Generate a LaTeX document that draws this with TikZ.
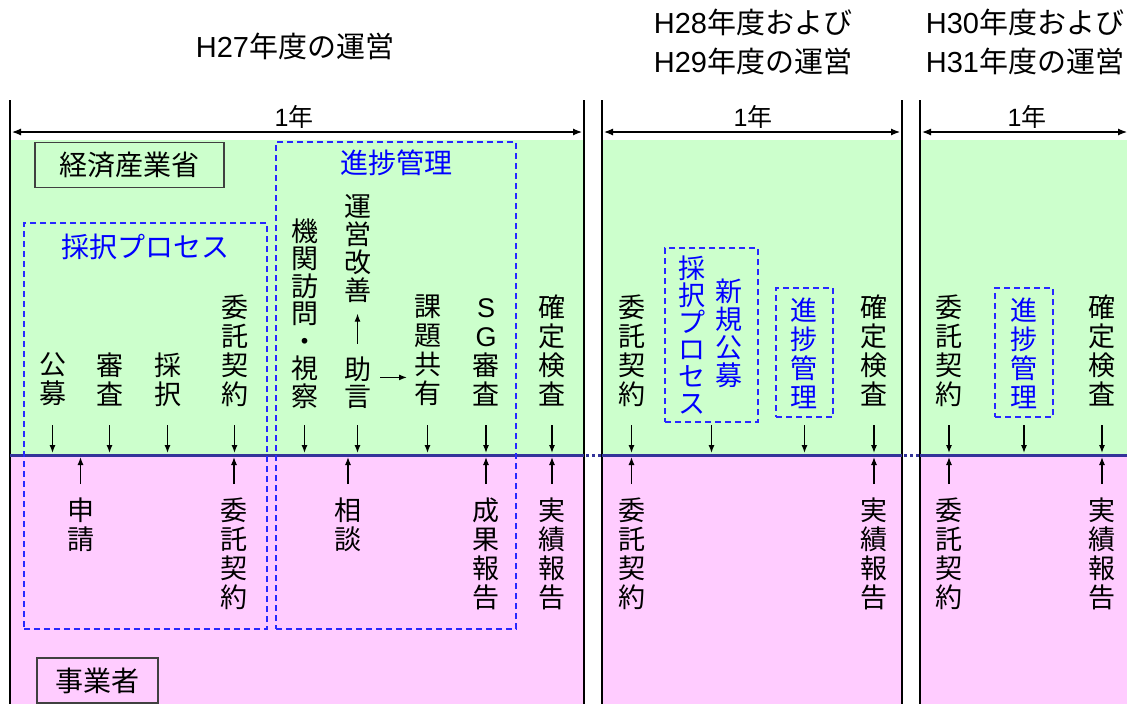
\documentclass[tikz,border=0pt]{standalone}
\usepackage{fontspec}
\setmainfont{Noto Sans CJK JP}
\newfontfamily\lat{Liberation Sans}
\usetikzlibrary{arrows.meta}
\definecolor{pgreen}{HTML}{CCFFCC}
\definecolor{ppink}{HTML}{FFCCFF}
\definecolor{navyline}{RGB}{51,51,153}
\definecolor{grpblue}{RGB}{40,40,255}
\definecolor{txtblue}{RGB}{0,0,255}
\begin{document}
\begin{tikzpicture}[x=1pt,y=-1pt,
  vt/.style={align=center, inner sep=0pt, outer sep=0pt, anchor=north, font=\fontsize{27}{29}\selectfont},
  bvt/.style={vt, text=txtblue},
  grp/.style={draw=grpblue, line width=1.5pt, dash pattern=on 6pt off 4pt, inner sep=0pt, outer sep=0pt},
  arr/.style={-{Latex[length=8pt,width=6pt]}, line width=1.2pt},
  dim/.style={{Latex[length=9pt,width=7pt]}-{Latex[length=9pt,width=7pt]}, line width=1.2pt},
  sepl/.style={line width=2pt},
  hdr/.style={font=\fontsize{29}{39}\selectfont, align=center, inner sep=0pt},
  yr/.style={font=\fontsize{25}{28}\selectfont, inner sep=0pt},
  actor/.style={draw=black!75, line width=1.2pt, minimum height=45pt, inner sep=0pt, font=\fontsize{28}{30}\selectfont},
  grpt/.style={text=txtblue, inner sep=0pt, font=\fontsize{28}{30}\selectfont},
]
\useasboundingbox (0,0) rectangle (1127,704);
% backgrounds
\fill[pgreen] (11,140) rectangle (584,455);
\fill[ppink] (11,455) rectangle (584,704);
\fill[pgreen] (603,140) rectangle (902,455);
\fill[ppink] (603,455) rectangle (902,704);
\fill[pgreen] (921,140) rectangle (1127,455);
\fill[ppink] (921,455) rectangle (1127,704);
% separators
\draw[sepl] (10,100) -- (10,704);
\draw[sepl] (584,100) -- (584,704);
\draw[sepl] (602,100) -- (602,704);
\draw[sepl] (902,100) -- (902,704);
\draw[sepl] (920,100) -- (920,704);
% boundary line
\draw[navyline, line width=3pt] (10,455) -- (584,455) (602,455) -- (902,455) (920,455) -- (1127,455);
\draw[navyline, line width=3pt, dash pattern=on 3pt off 3pt] (586,455) -- (602,455) (904,455) -- (920,455);
% arrow levels
\coordinate (dt) at (0,425);
\coordinate (db) at (0,453);
\coordinate (ut) at (0,484);
\coordinate (ub) at (0,457);
% headers
\node[hdr] (h1) at (295,46) {{\lat H27}年度の運営};
\node[hdr] (h2) at (753,41.5) {{\lat H28}年度および\\{\lat H29}年度の運営};
\node[hdr] (h3) at (1025,41.5) {{\lat H30}年度および\\{\lat H31}年度の運営};
% one-year spans
\node[yr] (y1) at (294,117) {{\lat 1}年};
\node[yr] (y2) at (753,117) {{\lat 1}年};
\node[yr] (y3) at (1027,117) {{\lat 1}年};
\coordinate (d1a) at (12,132); \coordinate (d1b) at (582,132);
\coordinate (d2a) at (604,132); \coordinate (d2b) at (900,132);
\coordinate (d3a) at (922,132); \coordinate (d3b) at (1127,132);
\draw[dim] (d1a) -- (d1b);
\draw[dim] (d2a) -- (d2b);
\draw[dim] (d3a) -- (d3b);
% actors
\node[actor, fill=pgreen, minimum width=189pt] (meti) at (129.5,165) {経済産業省};
\node[actor, fill=ppink, minimum width=121pt] (biz) at (97.5,680.5) {事業者};
% groups
\node[grp, minimum width=243pt, minimum height=406pt] (g1) at (145.5,426) {};
\node[grp, minimum width=240pt, minimum height=487pt] (g2) at (396,385.5) {};
\node[grp, minimum width=93pt, minimum height=174pt] (g3) at (711.5,335) {};
\node[grp, minimum width=57pt, minimum height=129pt] (g4) at (804.5,352.5) {};
\node[grp, minimum width=58pt, minimum height=129pt] (g5) at (1024,352.5) {};
\node[grpt] (t1) at (145.5,247) {採択プロセス};
\node[grpt] (t2) at (396,163) {進捗管理};
% upper labels, panel 1
\node[vt] (a1) at (52.5,352.5) {公\\募};
\node[vt] (a2) at (109.5,352.5) {審\\査};
\node[vt] (a3) at (167.5,352.5) {採\\択};
\node[vt] (a4) at (234.5,295) {委\\託\\契\\約};
\node[vt, font=\fontsize{27}{27.5}\selectfont] (a5) at (304.5,218.5) {機\\関\\訪\\問\\・\\視\\察};
\node[vt, font=\fontsize{27}{28}\selectfont] (a6) at (357.5,194.5) {運\\営\\改\\善};
\node[vt, font=\fontsize{27}{27}\selectfont] (a7) at (357.5,356.5) {助\\言};
\node[vt] (a8) at (427.5,295) {課\\題\\共\\有};
\node[vt] (a9) at (486,295) {{\lat S}\vphantom{審}\\{\lat G}\\審\\査};
\node[vt] (a10) at (552,295) {確\\定\\検\\査};
% lower labels, panel 1
\node[vt] (b1) at (80.5,497.5) {申\\請};
\node[vt] (b2) at (234,497.5) {委\\託\\契\\約};
\node[vt] (b3) at (348,497.5) {相\\談};
\node[vt] (b4) at (486,497.5) {成\\果\\報\\告};
\node[vt] (b5) at (552,497.5) {実\\績\\報\\告};
% panel 2
\node[vt] (c1) at (631.5,295) {委\\託\\契\\約};
\node[bvt, anchor=center, font=\fontsize{27}{27}\selectfont] (c2) at (692,335.5) {採\\択\\プ\\ロ\\セ\\ス};
\node[bvt, anchor=center, font=\fontsize{27}{28}\selectfont] (c3) at (728.5,333) {新\\規\\公\\募};
\node[bvt] (c4) at (804,297.5) {進\\捗\\管\\理};
\node[vt] (c5) at (874,295) {確\\定\\検\\査};
\node[vt] (c6) at (631.5,497.5) {委\\託\\契\\約};
\node[vt] (c7) at (874,497.5) {実\\績\\報\\告};
% panel 3
\node[vt] (e1) at (949,295) {委\\託\\契\\約};
\node[bvt] (e2) at (1024,297.5) {進\\捗\\管\\理};
\node[vt] (e3) at (1102,295) {確\\定\\検\\査};
\node[vt] (e4) at (949,497.5) {委\\託\\契\\約};
\node[vt] (e5) at (1102,497.5) {実\\績\\報\\告};
% arrows
\foreach \n in {a1,a2,a3,a4,a5,a7,a8,a9,a10,c1,g3,g4,c5,e1,g5,e3}
  \draw[arr] (\n.south |- dt) -- (\n.south |- db);
\foreach \n in {b1,b2,b3,b4,b5,c6,c7,e4,e5}
  \draw[arr] (\n.north |- ut) -- (\n.north |- ub);
\draw[arr] ([yshift=13pt]a7.north) -- ([yshift=-11pt]a6.south);
\draw[arr] ([xshift=9pt,yshift=5pt]a7.east) -- ++(27,0);
\end{tikzpicture}
\end{document}
